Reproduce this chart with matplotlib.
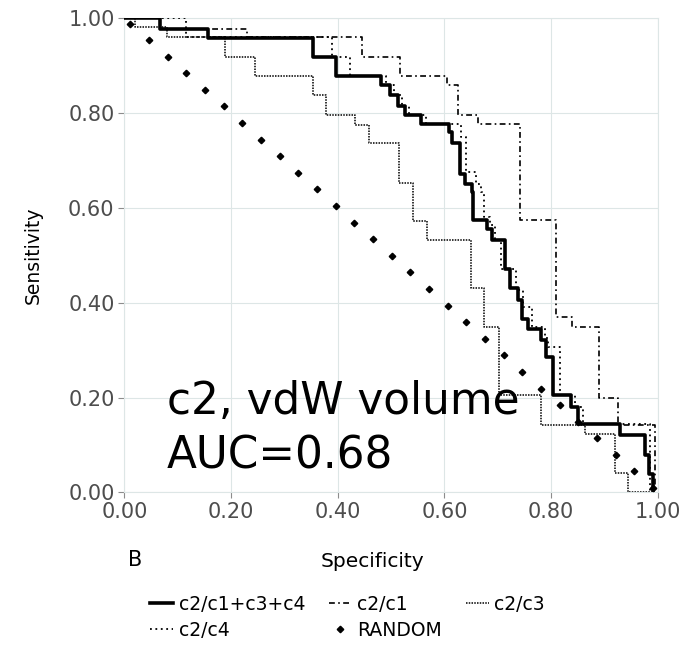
import matplotlib
matplotlib.use('Agg')
import matplotlib.pyplot as plt

# ROC curves (specificity where the step drops, new sensitivity)
all_spec = [0.000, 0.066, 0.156, 0.354, 0.397, 0.481, 0.498, 0.513, 0.526, 0.557, 0.609,
            0.615, 0.629, 0.639, 0.651, 0.654, 0.679, 0.689, 0.713, 0.723, 0.738, 0.745,
            0.757, 0.782, 0.791, 0.803, 0.838, 0.851, 0.929, 0.976, 0.984, 0.991]
all_sens = [1.000, 0.978, 0.958, 0.918, 0.878, 0.859, 0.838, 0.816, 0.795, 0.778, 0.760,
            0.736, 0.672, 0.651, 0.634, 0.574, 0.556, 0.532, 0.472, 0.430, 0.405, 0.366,
            0.345, 0.321, 0.285, 0.205, 0.180, 0.145, 0.120, 0.078, 0.039, 0.000]

c1_spec = [0.000, 0.066, 0.230, 0.445, 0.517, 0.604, 0.626, 0.663, 0.741, 0.810, 0.840,
           0.890, 0.926, 0.995]
c1_sens = [1.000, 0.978, 0.961, 0.918, 0.878, 0.859, 0.795, 0.776, 0.574, 0.370, 0.349,
           0.200, 0.143, 0.000]

c3_spec = [0.000, 0.020, 0.080, 0.189, 0.245, 0.353, 0.378, 0.433, 0.459, 0.515, 0.541,
           0.568, 0.649, 0.675, 0.703, 0.782, 0.863, 0.919, 0.945, 0.988]
c3_sens = [1.000, 0.982, 0.961, 0.918, 0.878, 0.838, 0.795, 0.774, 0.736, 0.653, 0.572,
           0.533, 0.431, 0.349, 0.205, 0.143, 0.122, 0.041, 0.000, 0.000]

c4_spec = [0.000, 0.115, 0.390, 0.423, 0.490, 0.505, 0.520, 0.533, 0.565, 0.631, 0.640,
           0.660, 0.668, 0.674, 0.685, 0.695, 0.707, 0.735, 0.748, 0.765, 0.788, 0.795,
           0.816, 0.845, 0.860, 0.985]
c4_sens = [1.000, 0.961, 0.918, 0.878, 0.859, 0.838, 0.816, 0.795, 0.778, 0.750, 0.676,
           0.651, 0.634, 0.581, 0.565, 0.532, 0.472, 0.426, 0.390, 0.349, 0.325, 0.306,
           0.205, 0.180, 0.145, 0.000]

rand_spec = [0.011, 0.046, 0.081, 0.116, 0.151, 0.186, 0.221, 0.256, 0.291, 0.326, 0.361,
             0.396, 0.431, 0.466, 0.501, 0.536, 0.571, 0.606, 0.641, 0.676, 0.711, 0.746,
             0.781, 0.816, 0.851, 0.886, 0.921, 0.956, 0.991]
rand_sens = [0.989, 0.954, 0.919, 0.884, 0.849, 0.814, 0.779, 0.744, 0.709, 0.674, 0.639,
             0.604, 0.569, 0.534, 0.499, 0.464, 0.429, 0.394, 0.359, 0.324, 0.289, 0.254,
             0.219, 0.184, 0.149, 0.114, 0.079, 0.044, 0.009]

ticks = [0.0, 0.2, 0.4, 0.6, 0.8, 1.0]
tick_labels = ['0.00', '0.20', '0.40', '0.60', '0.80', '1.00']

plt.rcParams['font.family'] = ['DejaVu Sans']

fig = plt.figure(figsize=(6.98, 6.49), dpi=100)
ax = fig.add_axes([0.1781, 0.2414, 0.7643, 0.7304])

grid_col = '#dde6e6'

# random classifier points
h_rand, = ax.plot(rand_spec, rand_sens, linestyle='none', marker='D', ms=3.3,
                  color='black', label='RANDOM', zorder=3)
h_c3, = ax.plot(c3_spec, c3_sens, drawstyle='steps-post', color='black', lw=1.1,
                linestyle=(0, (1, 0.8)), label='c2/c3', zorder=4)
h_c1, = ax.plot(c1_spec, c1_sens, drawstyle='steps-post', color='black', lw=1.2,
                linestyle=(0, (3.5, 2, 1, 2)), label='c2/c1', zorder=4)
h_c4, = ax.plot(c4_spec, c4_sens, drawstyle='steps-post', color='black', lw=1.3,
                linestyle=(0, (1, 2)), label='c2/c4', zorder=4)
h_all, = ax.plot(all_spec, all_sens, drawstyle='steps-post', color='black', lw=2.6,
                 label='c2/c1+c3+c4', zorder=5)

ax.set_xlim(0, 1)
ax.set_ylim(0, 1)
ax.set_xticks(ticks)
ax.set_xticklabels(tick_labels)
ax.set_yticks(ticks)
ax.set_yticklabels(tick_labels)
ax.tick_params(labelsize=15, labelcolor='#4d4d4d', color='#8c8c8c', length=4, width=0.8, pad=3)
ax.grid(True, color=grid_col, lw=0.8)
ax.set_axisbelow(True)
for s in ax.spines.values():
    s.set_color(grid_col)
    s.set_linewidth(0.8)

ax.text(0.08, 0.165, 'c2, vdW volume', fontsize=31.5, va='baseline', ha='left', zorder=6)
ax.text(0.08, 0.051, 'AUC=0.68', fontsize=31.5, va='baseline', ha='left', zorder=6)

fig.text(33 / 698, 1 - 255 / 649, 'Sensitivity', rotation=90, ha='center', va='center',
         fontsize=13.5)
fig.text(372 / 698, 1 - 567 / 649, 'Specificity', ha='center', va='baseline', fontsize=14.5)
fig.text(128 / 698, 1 - 566 / 649, 'B', ha='left', va='baseline', fontsize=15)

# row-major order for a 3-column legend
handles = [h_all, h_c4, h_c1, h_rand, h_c3]
fig.legend(handles=handles, labels=[h.get_label() for h in handles], ncol=3,
           loc='upper left', bbox_to_anchor=(150 / 698, 1 - 595 / 649),
           bbox_transform=fig.transFigure, frameon=False, fontsize=13.5,
           handlelength=1.25, handletextpad=0.28, columnspacing=1.25,
           labelspacing=0.36, borderpad=0, borderaxespad=0, numpoints=1)

fig.savefig('out.png', dpi=100)
